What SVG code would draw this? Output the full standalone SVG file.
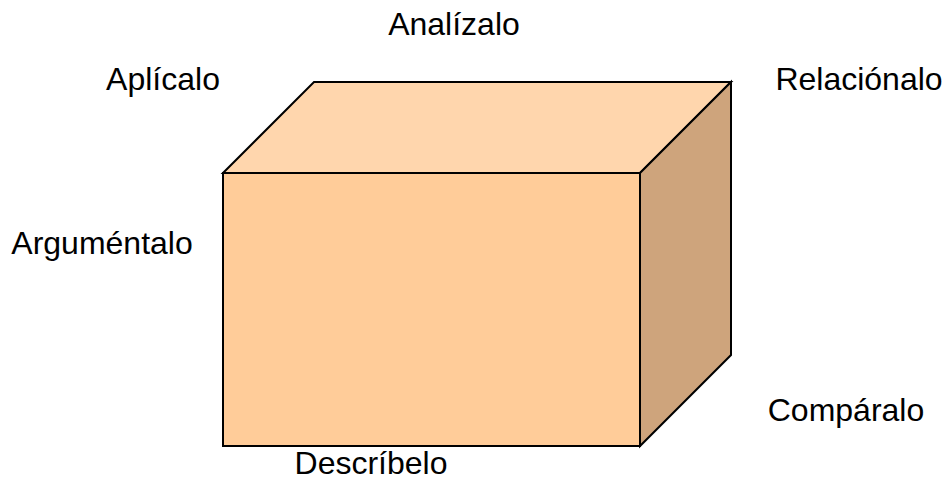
<svg xmlns="http://www.w3.org/2000/svg" width="947" height="480" viewBox="0 0 947 480">
<style>
.lbl{font-family:"Liberation Sans",Arial,sans-serif;font-size:32px;fill:#000;text-anchor:middle}
.edge{stroke:#000;stroke-width:2;stroke-linejoin:miter}
</style>
<rect width="947" height="480" fill="#fff"/>
<g id="cube">
<polygon class="edge" points="223,173 314,82 731,82 640,173" fill="#FFD6AD"/>
<polygon class="edge" points="640,173 731,82 731,355 640,446" fill="#CEA47C"/>
<rect class="edge" x="223" y="173" width="417" height="273" fill="#FFCC99"/>
</g>
<g id="labels">
<text class="lbl" x="454" y="35">Analízalo</text>
<text class="lbl" x="163" y="90">Aplícalo</text>
<text class="lbl" x="859" y="90">Relaciónalo</text>
<text class="lbl" x="102" y="254">Arguméntalo</text>
<text class="lbl" x="846" y="421">Compáralo</text>
<text class="lbl" x="371" y="474">Descríbelo</text>
</g>
</svg>
